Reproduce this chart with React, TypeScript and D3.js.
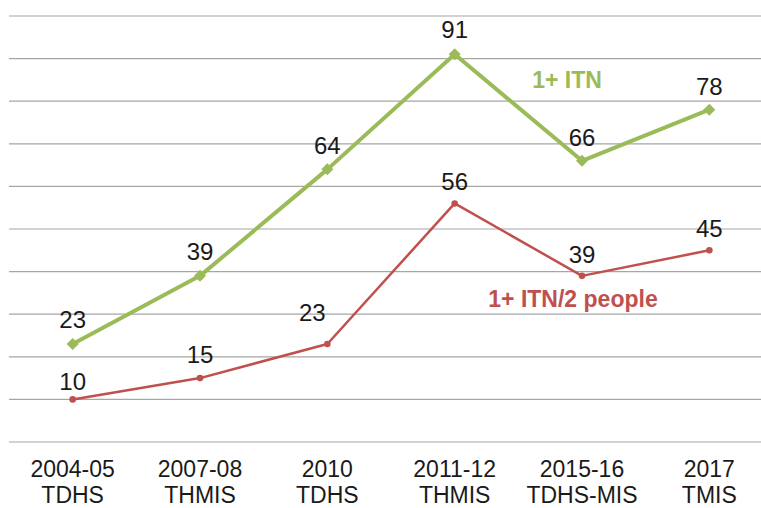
import React from "react";
import * as d3 from "d3";

const categories = ["2004-05|TDHS", "2007-08|THMIS", "2010|TDHS", "2011-12|THMIS", "2015-16|TDHS-MIS", "2017|TMIS"];
const itnAny = [23, 39, 64, 91, 66, 78];
const itnPerTwo = [10, 15, 23, 56, 39, 45];
const gridTicks = [0, 10, 20, 30, 40, 50, 60, 70, 80, 90, 100];

const W = 761;
const H = 508;
const GREEN = "#9BBB59";
const RED = "#C0504D";
const FONT = "'Liberation Sans', Arial, sans-serif";

export default function App() {
  const x = d3.scaleBand<string>().domain(categories).range([9, 773]);
  const cx = (c: string) => (x(c) as number) + x.bandwidth() / 2;
  const y = d3.scaleLinear().domain([0, 100]).range([442, 16]);

  const line = d3
    .line<number>()
    .x((_, i) => cx(categories[i]))
    .y((d) => y(d));

  const diamond = d3.symbol().type(d3.symbolSquare).size(72)();

  const greenLabelDy = [-16, -16, -15, -16, -15, -15];
  const redLabelDx = [0, 0, -15, 0, 0, 0];
  const redLabelDy = [-9, -15, -23, -13, -13, -13];

  return (
    <svg
      width={W}
      height={H}
      style={{ position: "absolute", left: 0, top: 0, background: "#fff" }}
      fontFamily={FONT}
    >
      {gridTicks.map((t) => (
        <line key={t} x1={9} x2={W} y1={y(t)} y2={y(t)} stroke="#A6A6A6" strokeWidth={1.2} />
      ))}

      <path d={line(itnAny) || ""} fill="none" stroke={GREEN} strokeWidth={4} strokeLinejoin="round" />
      {itnAny.map((v, i) => (
        <path
          key={"gm" + i}
          d={diamond || ""}
          transform={`translate(${cx(categories[i])},${y(v)}) rotate(45)`}
          fill={GREEN}
        />
      ))}
      <path d={line(itnPerTwo) || ""} fill="none" stroke={RED} strokeWidth={2.5} strokeLinejoin="round" />
      {itnPerTwo.map((v, i) => (
        <circle key={"rm" + i} cx={cx(categories[i])} cy={y(v)} r={3.3} fill={RED} />
      ))}

      {itnAny.map((v, i) => (
        <text key={"gl" + i} x={cx(categories[i])} y={y(v) + greenLabelDy[i]} textAnchor="middle" fontSize={24} fill="#1a1a1a">
          {v}
        </text>
      ))}
      {itnPerTwo.map((v, i) => (
        <text
          key={"rl" + i}
          x={cx(categories[i]) + redLabelDx[i]}
          y={y(v) + redLabelDy[i]}
          textAnchor="middle"
          fontSize={24}
          fill="#1a1a1a"
        >
          {v}
        </text>
      ))}

      <text x={567} y={88} textAnchor="middle" fontSize={23} fontWeight="bold" fill={GREEN}>
        1+ ITN
      </text>
      <text x={573} y={307} textAnchor="middle" fontSize={23} fontWeight="bold" fill={RED}>
        1+ ITN/2 people
      </text>

      {categories.map((c) => {
        const [a, b] = c.split("|");
        return (
          <g key={c}>
            <text x={cx(c)} y={477} textAnchor="middle" fontSize={23} fill="#1a1a1a">
              {a}
            </text>
            <text x={cx(c)} y={503} textAnchor="middle" fontSize={23} fill="#1a1a1a">
              {b}
            </text>
          </g>
        );
      })}
    </svg>
  );
}
